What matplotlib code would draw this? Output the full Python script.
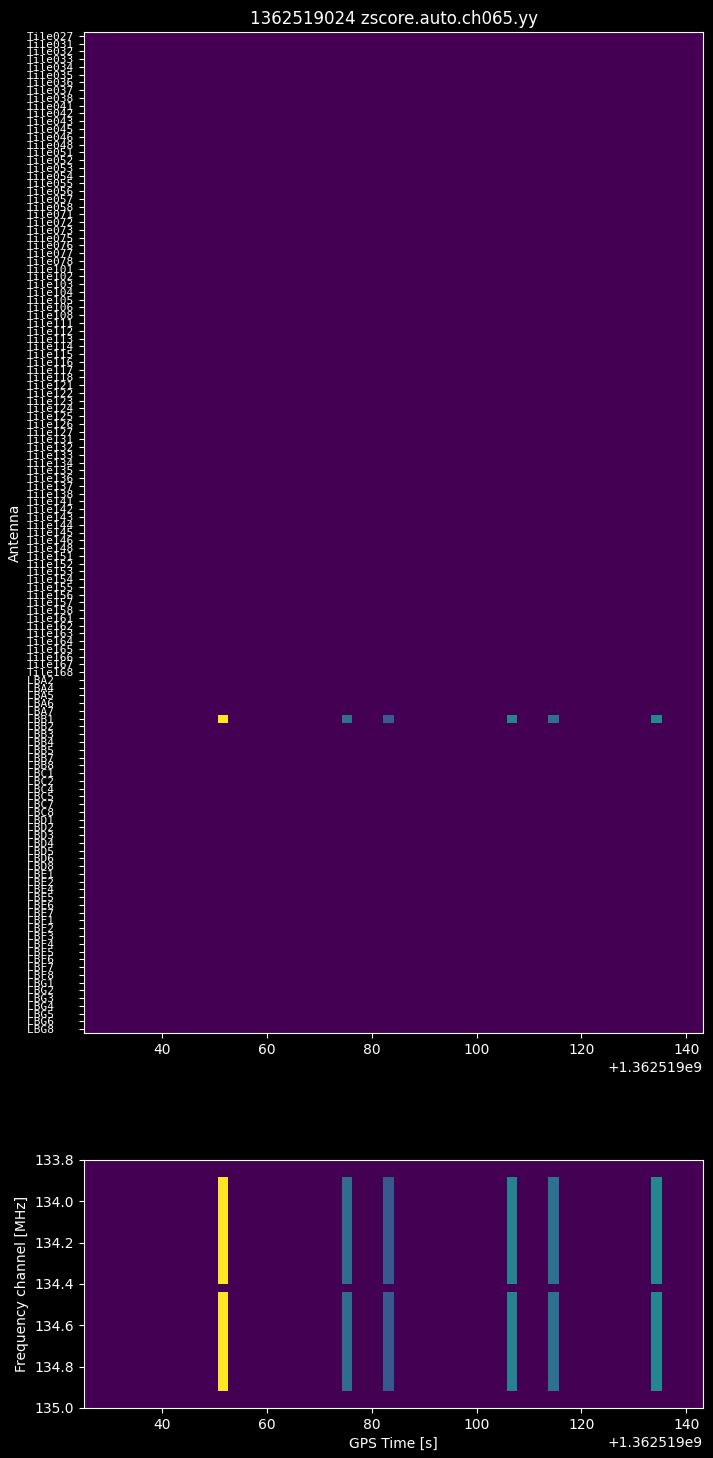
import numpy as np
import matplotlib
matplotlib.use('Agg')
import matplotlib.pyplot as plt

plt.style.use('dark_background')

# ---------------- data ----------------
title = '1362519024 zscore.auto.ch065.yy'
gps_start = 1362519025.1
gps_end = 1362519143.2
n_times = 60

tile_numbers = ['027', '031', '032', '033', '034', '035', '036', '037', '038',
                '041', '042', '043', '045', '046', '048',
                '051', '052', '053', '054', '055', '056', '057', '058',
                '071', '072', '073', '075', '076', '077', '078',
                '101', '102', '103', '104', '105', '106', '108',
                '111', '112', '113', '114', '115', '116', '117', '118',
                '121', '122', '123', '124', '125', '126', '127',
                '131', '132', '133', '134', '135', '136', '137', '138',
                '141', '142', '143', '144', '145', '146', '148',
                '151', '152', '153', '154', '155', '156', '157', '158',
                '161', '162', '163', '164', '165', '166', '167', '168']
lb_names = ['LBA2', 'LBA4', 'LBA5', 'LBA6', 'LBA7',
            'LBB1', 'LBB2', 'LBB3', 'LBB4', 'LBB5', 'LBB7', 'LBB8',
            'LBC1', 'LBC2', 'LBC4', 'LBC5', 'LBC7', 'LBC8',
            'LBD1', 'LBD2', 'LBD3', 'LBD4', 'LBD5', 'LBD6', 'LBD8',
            'LBE1', 'LBE2', 'LBE4', 'LBE5', 'LBE6', 'LBE7',
            'LBF1', 'LBF2', 'LBF3', 'LBF4', 'LBF5', 'LBF6', 'LBF7', 'LBF8',
            'LBG1', 'LBG2', 'LBG3', 'LBG4', 'LBG5', 'LBG6', 'LBG8']
antennas = ['Tile' + t for t in tile_numbers] + lb_names

flagged_antenna = 'LBB1'
event_bins = [13, 25, 29, 41, 45, 55]
event_zscore_ant = [1.0, 0.37, 0.29, 0.44, 0.37, 0.47]
event_zscore_freq = [1.0, 0.35, 0.28, 0.44, 0.37, 0.47]

freq_lo = 133.80
freq_hi = 135.00
n_chan = 30
flagged_chans = [0, 1, 15, 28, 29]
freq_ticks = [133.8, 134.0, 134.2, 134.4, 134.6, 134.8, 135.0]

# ---------------- build arrays ----------------
t_edges = np.linspace(gps_start, gps_end, n_times + 1)
n_ant = len(antennas)
ant_data = np.zeros((n_ant, n_times))
ai = antennas.index(flagged_antenna)
for b, v in zip(event_bins, event_zscore_ant):
    ant_data[ai, b] = v

f_edges = np.linspace(freq_lo, freq_hi, n_chan + 1)
freq_data = np.zeros((n_chan, n_times))
active = [c for c in range(n_chan) if c not in flagged_chans]
for b, v in zip(event_bins, event_zscore_freq):
    freq_data[active, b] = v

# ---------------- figure ----------------
fig = plt.figure(figsize=(7.13, 14.58), dpi=100)
fig.patch.set_facecolor('black')

ax1 = fig.add_axes([84 / 713, 1 - 1033 / 1458, 619 / 713, 1001 / 1458])
ax1.pcolormesh(t_edges, np.arange(n_ant + 1), ant_data, cmap='viridis',
               vmin=0, vmax=1)
ax1.set_ylim(n_ant, 0)
ax1.set_yticks(np.arange(n_ant) + 0.5)
ax1.set_yticklabels([a.ljust(7) for a in antennas], fontsize=8,
                    family='DejaVu Sans Mono')
ax1.set_ylabel('Antenna')
ax1.set_title(title, fontsize=12)

ax2 = fig.add_axes([84 / 713, 1 - 1408 / 1458, 619 / 713, 248 / 1458])
ax2.pcolormesh(t_edges, f_edges, freq_data, cmap='viridis', vmin=0, vmax=1)
ax2.set_ylim(freq_hi, freq_lo)
ax2.set_yticks(freq_ticks)
ax2.set_yticklabels([f'{f:.1f}' for f in freq_ticks])
ax2.set_ylabel('Frequency channel [MHz]')
ax2.set_xlabel('GPS Time [s]')

fig.savefig('out.png', dpi=100, facecolor='black')
